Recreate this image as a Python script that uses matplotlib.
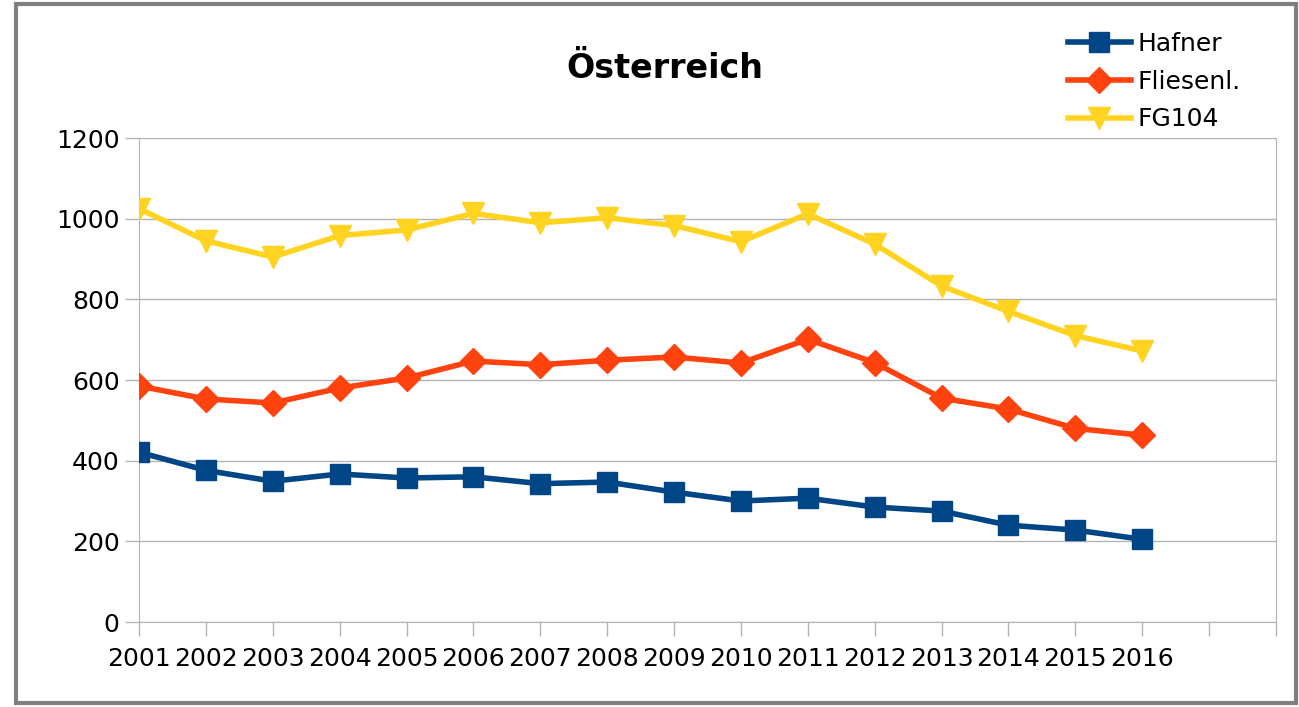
import matplotlib
matplotlib.use("Agg")
import matplotlib.pyplot as plt
from matplotlib.patches import Rectangle

# data
years = ['2001', '2002', '2003', '2004', '2005', '2006', '2007', '2008',
         '2009', '2010', '2011', '2012', '2013', '2014', '2015', '2016']
n_slots = 18  # the category axis has two empty slots after 2016

hafner = [421, 376, 349, 367, 357, 360, 343, 347, 322, 300, 307, 285, 275, 240, 228, 205]
fliesenl = [585, 553, 543, 580, 605, 647, 638, 649, 657, 642, 701, 643, 555, 528, 480, 463]
fg104 = [1025, 945, 905, 958, 972, 1013, 990, 1002, 983, 943, 1012, 937, 833, 770, 710, 672]

y_ticks = [0, 200, 400, 600, 800, 1000, 1200]

grid_col = '#b3b3b3'
fs = 18

fig = plt.figure(figsize=(12.99, 7.07), dpi=100)
ax = fig.add_axes([139 / 1299, 85 / 707, (1276 - 139) / 1299, (622 - 138) / 707])

x = list(range(len(years)))
ax.plot(x, hafner, color='#004586', lw=4, marker='s', ms=15, label='Hafner', zorder=3)
ax.plot(x, fliesenl, color='#ff420e', lw=4, marker='D', ms=13, label='Fliesenl.', zorder=3)
ax.plot(x, fg104, color='#ffd320', lw=4, marker='v', ms=16, label='FG104', zorder=3)

ax.set_xlim(0, n_slots - 1)
ax.set_ylim(0, 1200)
ax.set_xticks(range(n_slots))
ax.set_xticklabels(years + [''] * (n_slots - len(years)), fontsize=fs)
ax.set_yticks(y_ticks)
ax.set_yticklabels([str(v) for v in y_ticks], fontsize=fs)
ax.tick_params(axis='x', direction='out', length=10, width=1, color=grid_col, pad=8)
ax.tick_params(axis='y', direction='out', length=10, width=1, color=grid_col, pad=4)

ax.grid(axis='y', color=grid_col, lw=1)
ax.set_axisbelow(True)
for side in ['left', 'bottom', 'right']:
    ax.spines[side].set_color(grid_col)
ax.spines['top'].set_visible(False)

fig.text(665 / 1299, 1 - 68 / 707, 'Österreich', ha='center', va='center',
         fontsize=24, fontweight='bold')

fig.legend(loc='upper left', bbox_to_anchor=(1068 / 1299, 1 - 32 / 707), frameon=False,
           fontsize=fs, handlelength=2.5, handletextpad=0.3, labelspacing=0.55,
           borderpad=0, borderaxespad=0)

# grey frame around the whole chart
fig.patches.append(Rectangle((16 / 1299, 4 / 707), (1296 - 16) / 1299, (703 - 4) / 707,
                             transform=fig.transFigure, fill=False,
                             edgecolor='#808080', lw=3))

fig.savefig('out.png', dpi=100)
